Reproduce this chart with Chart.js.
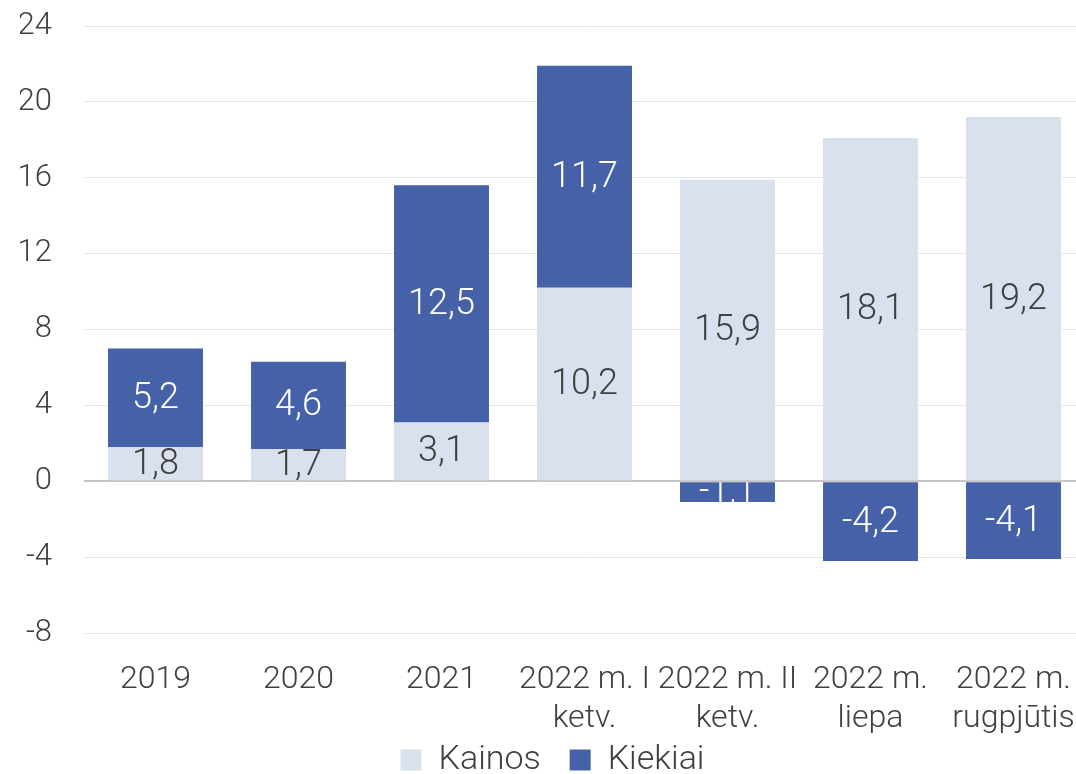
<!DOCTYPE html>
<html>
<head>
<meta charset="utf-8">
<script src="https://cdn.jsdelivr.net/npm/chart.js@4"></script>
<style>
html,body{margin:0;padding:0;background:#fff;overflow:hidden;}
#wrap{position:absolute;left:0;top:0;width:1095px;height:774px;}
</style>
</head>
<body>
<div id="wrap"><canvas id="c"></canvas></div>
<script>
const categories = [["2019"],["2020"],["2021"],["2022 m. I","ketv."],["2022 m. II","ketv."],["2022 m.","liepa"],["2022 m.","rugpjūtis"]];
const kainos = [1.8, 1.7, 3.1, 10.2, 15.9, 18.1, 19.2];
const kiekiai = [5.2, 4.6, 12.5, 11.7, -1.1, -4.2, -4.1];
const seriesNames = ["Kainos", "Kiekiai"];
const yTicks = {min: -8, max: 24, step: 4};

const FONT = "Roboto";
const TXT = "#404040";

const labelPlugin = {
  id: 'barLabels',
  afterDatasetsDraw(chart) {
    const ctx = chart.ctx;
    chart.data.datasets.forEach((ds, di) => {
      const meta = chart.getDatasetMeta(di);
      meta.data.forEach((bar, i) => {
        const p = bar.getProps(['x','y','base','width'], true);
        const top = Math.min(p.y, p.base), bot = Math.max(p.y, p.base);
        ctx.save();
        ctx.beginPath();
        ctx.rect(p.x - p.width/2, top, p.width, bot - top);
        ctx.clip();
        ctx.fillStyle = di === 0 ? TXT : '#ffffff';
        ctx.font = '300 36px ' + FONT;
        ctx.textAlign = 'center';
        ctx.textBaseline = 'middle';
        ctx.fillText(String(ds.data[i]).replace('.', ','), p.x, (top + bot)/2 + 1);
        ctx.restore();
      });
    });
  }
};

new Chart(document.getElementById('c'), {
  type: 'bar',
  data: {
    labels: categories,
    datasets: [
      {label: seriesNames[0], data: kainos, backgroundColor: '#D9E0EE', stack: 's'},
      {label: seriesNames[1], data: kiekiai, backgroundColor: '#4562A8', stack: 's'}
    ]
  },
  options: {
    responsive: true,
    maintainAspectRatio: false,
    animation: false,
    categoryPercentage: 1,
    barPercentage: 0.664,
    layout: {padding: {top: 26, right: 10, bottom: -13, left: 20}},
    plugins: {
      legend: {
        position: 'bottom',
        labels: {
          font: {family: FONT, size: 34, weight: '300'},
          color: TXT,
          boxWidth: 21,
          boxHeight: 21,
          padding: 4,
          generateLabels(chart) {
            const items = Chart.defaults.plugins.legend.labels.generateLabels(chart);
            items[0].text = items[0].text + '   ';
            return items;
          }
        }
      },
      tooltip: {enabled: false}
    },
    scales: {
      x: {
        stacked: true,
        afterFit(s) { s.paddingLeft = 0; s.paddingRight = 0; s.height = 106; },
        grid: {display: false, drawTicks: false},
        border: {display: false},
        ticks: {
          font: {family: FONT, size: 32, weight: '300', lineHeight: 1.22},
          color: TXT,
          padding: 27,
          maxRotation: 0,
          autoSkip: false
        }
      },
      y: {
        stacked: true,
        min: yTicks.min,
        max: yTicks.max,
        afterFit(s) { s.width = 64; s.paddingTop = 0; s.paddingBottom = 0; },
        grid: {
          drawTicks: false,
          color: c => c.tick && c.tick.value === 0 ? '#C4C4C4' : '#E6E6E6',
          lineWidth: c => c.tick && c.tick.value === 0 ? 2 : 1
        },
        border: {display: false},
        ticks: {
          stepSize: yTicks.step,
          font: {family: FONT, size: 31, weight: '300'},
          color: TXT,
          padding: 32
        }
      }
    }
  },
  plugins: [labelPlugin]
});
</script>
</body>
</html>
